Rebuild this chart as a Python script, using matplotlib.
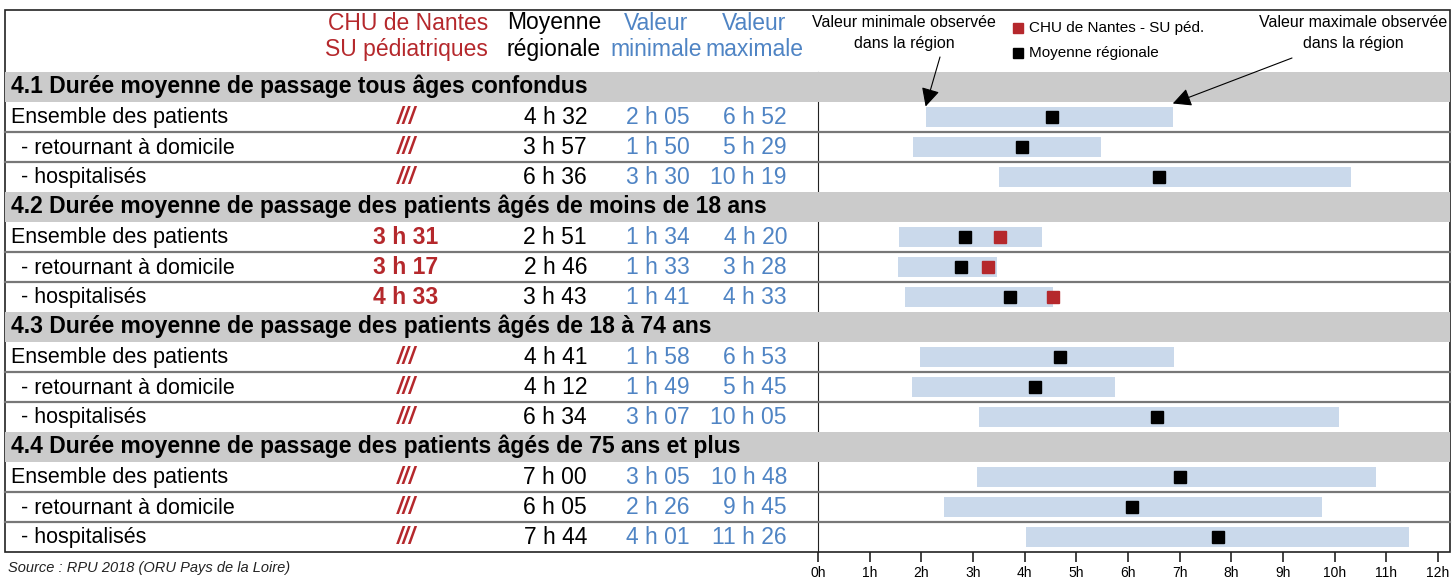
import matplotlib.pyplot as plt
from matplotlib.patches import Rectangle

plt.rcParams['font.family'] = ['Liberation Sans', 'DejaVu Sans']

# data
sections = [
    "4.1 Durée moyenne de passage tous âges confondus",
    "4.2 Durée moyenne de passage des patients âgés de moins de 18 ans",
    "4.3 Durée moyenne de passage des patients âgés de 18 à 74 ans",
    "4.4 Durée moyenne de passage des patients âgés de 75 ans et plus",
]
row_labels = ["Ensemble des patients", " - retournant à domicile", " - hospitalisés"]

chu = [None, None, None,
       "3 h 31", "3 h 17", "4 h 33",
       None, None, None,
       None, None, None]
moyenne = ["4 h 32", "3 h 57", "6 h 36",
           "2 h 51", "2 h 46", "3 h 43",
           "4 h 41", "4 h 12", "6 h 34",
           "7 h 00", "6 h 05", "7 h 44"]
val_min = ["2 h 05", "1 h 50", "3 h 30",
           "1 h 34", "1 h 33", "1 h 41",
           "1 h 58", "1 h 49", "3 h 07",
           "3 h 05", "2 h 26", "4 h 01"]
val_max = ["6 h 52", "5 h 29", "10 h 19",
           "4 h 20", "3 h 28", "4 h 33",
           "6 h 53", "5 h 45", "10 h 05",
           "10 h 48", "9 h 45", "11 h 26"]
hour_ticks = list(range(13))


def to_hours(s):
    h, m = s.split(" h ")
    return int(h) + int(m) / 60


RED = '#b5282c'
BLUE = '#4f84c4'
GRAY = '#cbcbcb'
LINE = '#777777'
BAR = '#cad9eb'
FS_LAB = 15.5
FS_VAL = 16.5

fig = plt.figure(figsize=(14.55, 5.81), dpi=100)

# chart part (hours axis)
cx = fig.add_axes([818 / 1455, (581 - 552) / 581, 620 / 1455, 480 / 581])
cx.set_xlim(0, 12)
cx.set_ylim(16, 0)
cx.patch.set_alpha(0)
for s in ['top', 'right', 'bottom']:
    cx.spines[s].set_visible(False)
cx.spines['left'].set_color('#222222')
cx.set_yticks([])
cx.set_xticks(hour_ticks)
cx.set_xticklabels([f"{h}h" for h in hour_ticks], fontsize=10)
cx.tick_params(axis='x', length=7, width=1.2, color='#222222', pad=3)

# table / decoration layer, pixel coords
ax = fig.add_axes([0, 0, 1, 1], zorder=3)
ax.set_xlim(0, 1455)
ax.set_ylim(581, 0)
ax.patch.set_alpha(0)
ax.axis('off')

top = 72
rh = 30
# outer frame
ax.add_patch(Rectangle((5, 10), 1445, 542, fill=False, ec='#222222', lw=1.2))

row = 0
k = 0
for si, title in enumerate(sections):
    y0 = top + row * rh
    ax.add_patch(Rectangle((5, y0), 1445, rh, color=GRAY, lw=0))
    ax.text(11, y0 + 21.5, title, fontsize=16.5, fontweight='bold', va='baseline', ha='left')
    row += 1
    for j, lab in enumerate(row_labels):
        y0 = top + row * rh
        yb = y0 + 21.5
        if j < 2:
            ax.plot([5, 1450], [y0 + rh, y0 + rh], color=LINE, lw=1.6)
        ax.text(11 if j == 0 else 15, yb, lab, fontsize=FS_LAB, va='baseline', ha='left')
        if chu[k] is None:
            ax.text(406, yb, "///", fontsize=FS_VAL, va='baseline', ha='center',
                    color=RED, fontweight='bold', style='italic')
        else:
            ax.text(406, yb, chu[k], fontsize=FS_VAL, va='baseline', ha='center',
                    color=RED, fontweight='bold')
        ax.text(587, yb, moyenne[k], fontsize=FS_VAL, va='baseline', ha='right')
        ax.text(690, yb, val_min[k], fontsize=FS_VAL, va='baseline', ha='right', color=BLUE)
        ax.text(787, yb, val_max[k], fontsize=FS_VAL, va='baseline', ha='right', color=BLUE)

        # bar + markers
        lo, hi = to_hours(val_min[k]), to_hours(val_max[k])
        cx.barh(row + 0.5, hi - lo, left=lo, height=0.67, color=BAR, zorder=1)
        cx.plot(to_hours(moyenne[k]), row + 0.5, 's', color='black', ms=8, zorder=3)
        if chu[k] is not None:
            cx.plot(to_hours(chu[k]), row + 0.5, 's', color=RED, ms=8, zorder=3)
        row += 1
        k += 1

# column headers
ax.text(488, 30, "CHU de Nantes", fontsize=FS_VAL, color=RED, ha='right', va='baseline')
ax.text(488, 56, "SU pédiatriques", fontsize=FS_VAL, color=RED, ha='right', va='baseline')
ax.text(554, 29, "Moyenne", fontsize=FS_VAL, ha='center', va='baseline')
ax.text(554, 56, "régionale", fontsize=FS_VAL, ha='center', va='baseline')
ax.text(656, 30, "Valeur", fontsize=FS_VAL, color=BLUE, ha='center', va='baseline')
ax.text(656, 56, "minimale", fontsize=FS_VAL, color=BLUE, ha='center', va='baseline')
ax.text(754, 30, "Valeur", fontsize=FS_VAL, color=BLUE, ha='center', va='baseline')
ax.text(754, 56, "maximale", fontsize=FS_VAL, color=BLUE, ha='center', va='baseline')

# legend
ax.plot(1018, 28, 's', color=RED, ms=7.5)
ax.text(1029, 28, "CHU de Nantes - SU péd.", fontsize=11, va='center')
ax.plot(1018, 53, 's', color='black', ms=7.5)
ax.text(1029, 53, "Moyenne régionale", fontsize=11, va='center')

# arrows
ax.text(904, 33, "Valeur minimale observée\ndans la région", fontsize=11.5,
        ha='center', va='center', linespacing=1.45)
ax.annotate("", xy=(to_hours(val_min[0]), 1.15), xycoords=cx.transData,
            xytext=(940, 57), textcoords=ax.transData,
            arrowprops=dict(arrowstyle='-|>', color='black', lw=0.8,
                            mutation_scale=28, shrinkA=0, shrinkB=0))
ax.text(1353, 33, "Valeur maximale observée\ndans la région", fontsize=11.5,
        ha='center', va='center', linespacing=1.45)
ax.annotate("", xy=(to_hours(val_max[0]), 1.05), xycoords=cx.transData,
            xytext=(1292, 58), textcoords=ax.transData,
            arrowprops=dict(arrowstyle='-|>', color='black', lw=0.8,
                            mutation_scale=28, shrinkA=0, shrinkB=0))

ax.text(8, 568, "Source : RPU 2018 (ORU Pays de la Loire)", fontsize=10.5,
        style='italic', va='center', color='#222222')

plt.savefig('out.png', dpi=100)
